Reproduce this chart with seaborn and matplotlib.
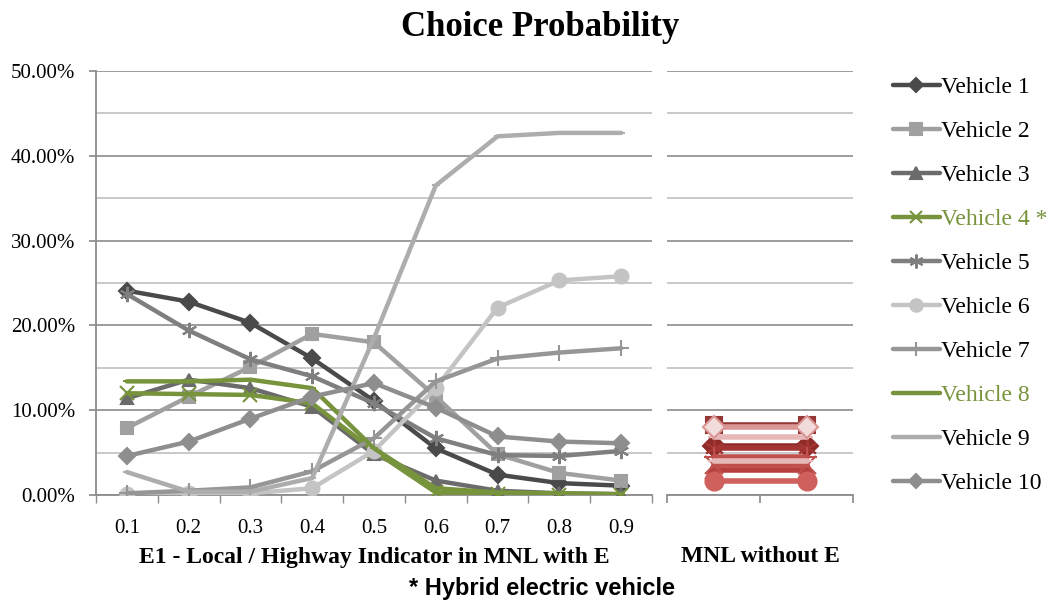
import numpy as np
import pandas as pd
import seaborn as sns
import matplotlib.pyplot as plt
from matplotlib.ticker import PercentFormatter, MultipleLocator
from matplotlib.lines import Line2D

sns.set_theme(style="white")
plt.rcParams['font.family'] = ['Liberation Serif', 'DejaVu Serif']
plt.rcParams['text.color'] = 'black'
plt.rcParams['axes.labelcolor'] = 'black'
plt.rcParams['xtick.color'] = 'black'
plt.rcParams['ytick.color'] = 'black'

# data (probabilities in %)
indicator = ["0.1", "0.2", "0.3", "0.4", "0.5", "0.6", "0.7", "0.8", "0.9"]
vehicles = ["Vehicle 1", "Vehicle 2", "Vehicle 3", "Vehicle 4 *", "Vehicle 5",
            "Vehicle 6", "Vehicle 7", "Vehicle 8", "Vehicle 9", "Vehicle 10"]

v1 = [24.1, 22.8, 20.3, 16.1, 11.1, 5.5, 2.4, 1.4, 1.1]
v2 = [7.9, 11.6, 15.1, 19.0, 18.0, 11.6, 4.8, 2.6, 1.7]
v3 = [11.4, 13.6, 12.6, 10.4, 4.8, 1.7, 0.5, 0.2, 0.1]
v4 = [12.0, 11.9, 11.8, 10.8, 5.2, 0.3, 0.1, 0.05, 0.03]
v5 = [23.7, 19.4, 16.0, 14.0, 10.8, 6.7, 4.7, 4.6, 5.2]
v6 = [0.1, 0.2, 0.2, 0.8, 5.2, 12.6, 22.1, 25.3, 25.8]
v7 = [0.2, 0.5, 0.9, 2.8, 6.7, 13.4, 16.1, 16.8, 17.3]
v8 = [13.4, 13.4, 13.6, 12.6, 5.5, 0.8, 0.3, 0.2, 0.1]
v9 = [2.7, 0.4, 0.4, 2.0, 18.5, 36.5, 42.3, 42.7, 42.7]
v10 = [4.6, 6.3, 9.0, 11.6, 13.2, 10.3, 6.9, 6.3, 6.1]
series = [v1, v2, v3, v4, v5, v6, v7, v8, v9, v10]

# MNL without E (constant per vehicle)
mnl_noe = [5.8, 8.3, 3.0, 3.5, 5.6, 1.7, 4.5, 4.0, 6.8, 8.0]

gray_cols = ["#4a4a4a", "#a0a0a0", "#6b6b6b", "#77933c", "#7f7f7f",
             "#c4c4c4", "#969696", "#77933c", "#adadad", "#8e8e8e"]
red_cols = ["#8e2b29", "#953735", "#b5403d", "#c0504d", "#a33533",
            "#d0605d", "#c0504d", "#e6b9b8", "#e6b9b8", "#d99694"]
markers = ["D", "s", "^", "x", (6, 2, 0), "o", "+", "_", "_", "D"]
msizes = [8, 9, 9, 10, 11, 10, 11, 6, 6, 8]

fig = plt.figure(figsize=(10.52, 6), dpi=100)
ax = fig.add_axes([96 / 1052, 105 / 600, 556 / 1052, 424 / 600])
ax2 = fig.add_axes([667 / 1052, 105 / 600, 186 / 1052, 424 / 600])

xpos = np.arange(len(indicator))
for i, vals in enumerate(series):
    df = pd.DataFrame({"x": xpos, "y": np.array(vals) / 100})
    sns.lineplot(data=df, x="x", y="y", ax=ax, color=gray_cols[i], lw=3.2,
                 marker=markers[i], markersize=msizes[i], markeredgewidth=1.5,
                 markeredgecolor=gray_cols[i], zorder=3 + i)
    dfr = pd.DataFrame({"x": [0, 1], "y": [mnl_noe[i] / 100] * 2})
    mfc = "#f2dcdb" if i == 9 else red_cols[i]
    sns.lineplot(data=dfr, x="x", y="y", ax=ax2, color=red_cols[i], lw=4,
                 marker=markers[i], markersize=msizes[i] + 3, markeredgewidth=1.5,
                 markerfacecolor=mfc, markeredgecolor=red_cols[i], zorder=3 + i)

for a in (ax, ax2):
    a.set_ylim(0, 0.5)
    a.yaxis.set_major_locator(MultipleLocator(0.1))
    a.yaxis.set_minor_locator(MultipleLocator(0.05))
    a.grid(True, which="major", axis="y", color="#8c8c8c", lw=1.2, zorder=0)
    a.grid(True, which="minor", axis="y", color="#c0c0c0", lw=1.2, zorder=0)
    a.set_axisbelow(True)
    for s in ["top", "right", "left"]:
        a.spines[s].set_visible(False)
    a.spines["bottom"].set_color("#8c8c8c")
    a.spines["bottom"].set_linewidth(1.3)

ax.spines["left"].set_visible(True)
ax.spines["left"].set_color("#8c8c8c")
ax.spines["left"].set_linewidth(1.3)
ax.yaxis.set_major_formatter(PercentFormatter(1.0, decimals=2))
ax.tick_params(axis="y", which="major", left=True, length=5, color="#8c8c8c",
               labelcolor="black", labelsize=15, pad=10)
ax.tick_params(axis="y", which="minor", left=False)

ax.set_xlim(-0.5, len(indicator) - 0.5)
ax.set_xticks(xpos)
ax.set_xticklabels(indicator)
ax.set_xticks(np.arange(-0.5, len(indicator), 1), minor=True)
ax.tick_params(axis="x", which="major", length=0, labelsize=15, pad=17,
               labelcolor="black")
ax.tick_params(axis="x", which="minor", bottom=True, length=6, color="#8c8c8c")
ax.set_xlabel("E1 - Local / Highway Indicator in MNL with E", fontsize=17,
              fontweight="bold", labelpad=7)
ax.set_ylabel("")

ax2.set_xlim(-0.5, 1.5)
ax2.set_xticks([-0.5, 0.5, 1.5])
ax2.set_xticklabels([])
ax2.tick_params(axis="x", bottom=True, length=6, color="#8c8c8c")
ax2.set_yticklabels([])
ax2.tick_params(axis="y", which="both", left=False, length=0)
ax2.set_xlabel("")
ax2.set_ylabel("")
fig.text(760 / 1052, 1 - 556 / 600, "MNL without E", ha="center", va="center",
         fontsize=17, fontweight="bold")

fig.text(540 / 1052, 1 - 27 / 600, "Choice Probability", ha="center", va="center",
         fontsize=25, fontweight="bold")
fig.text(542 / 1052, 1 - 588 / 600, "* Hybrid electric vehicle", ha="center",
         va="center", fontsize=17, fontweight="bold",
         family=["Liberation Sans", "DejaVu Sans"])

handles = [Line2D([0], [0], color=gray_cols[i], lw=3.2, marker=markers[i],
                  markersize=msizes[i] - 1, markeredgecolor=gray_cols[i],
                  markeredgewidth=1.5) for i in range(len(vehicles))]
leg = fig.legend(handles, vehicles, loc="upper left",
                 bbox_to_anchor=(881 / 1052, 1 - 65 / 600), frameon=False,
                 fontsize=17, handlelength=2.0, handletextpad=0.05,
                 labelspacing=0.95, borderpad=0)
for i, t in enumerate(leg.get_texts()):
    t.set_color("#77933c" if i in (3, 7) else "black")

fig.savefig("out.png", dpi=100)
